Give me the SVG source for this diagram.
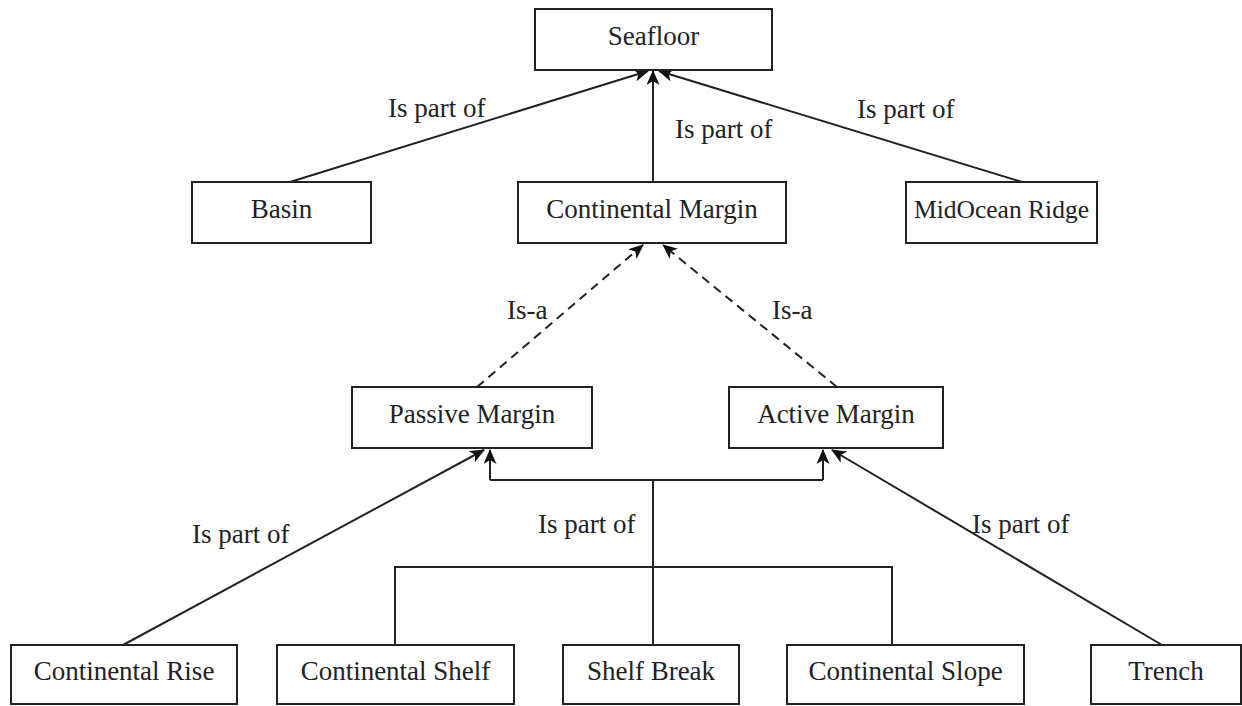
<svg xmlns="http://www.w3.org/2000/svg" width="1242" height="706" viewBox="0 0 1242 706">
<style>
.box{fill:#fff;stroke:#222;stroke-width:2}
.lbl{font-family:'Liberation Serif','Tinos','DejaVu Serif',serif;font-size:27px;fill:#222;text-anchor:middle}
.edge{font-family:'Liberation Serif','Tinos','DejaVu Serif',serif;font-size:27px;fill:#222}
.ln{fill:none;stroke:#222;stroke-width:2}
.dash{stroke-dasharray:9,6}
</style>
<defs>
<marker id="arr" markerUnits="userSpaceOnUse" markerWidth="15" markerHeight="13" refX="14" refY="6.5" orient="auto">
<path d="M0,0 L15,6.5 L0,13 L4,6.5 z" fill="#111"/>
</marker>
</defs>
<rect width="1242" height="706" fill="#fff"/>
<g id="connectors">
<line class="ln" x1="290" y1="182" x2="648" y2="71" marker-end="url(#arr)"/>
<line class="ln" x1="653" y1="182" x2="653" y2="71" marker-end="url(#arr)"/>
<line class="ln" x1="1022" y1="182" x2="659" y2="71" marker-end="url(#arr)"/>
<line class="ln dash" x1="477" y1="387" x2="643" y2="245" marker-end="url(#arr)"/>
<line class="ln dash" x1="837" y1="387" x2="663" y2="245" marker-end="url(#arr)"/>
<line class="ln" x1="123" y1="645" x2="484" y2="450" marker-end="url(#arr)"/>
<line class="ln" x1="1162" y1="645" x2="832" y2="450" marker-end="url(#arr)"/>
<polyline class="ln" points="490,480 490,450" marker-end="url(#arr)"/>
<polyline class="ln" points="823,480 823,450" marker-end="url(#arr)"/>
<line class="ln" x1="490" y1="480" x2="823" y2="480"/>
<line class="ln" x1="653" y1="480" x2="653" y2="645"/>
<polyline class="ln" points="395,645 395,567 892,567 892,645"/>
<text class="edge" x="388" y="117">Is part of</text>
<text class="edge" x="675" y="138">Is part of</text>
<text class="edge" x="857" y="118">Is part of</text>
<text class="edge" x="507" y="319">Is-a</text>
<text class="edge" x="772" y="319">Is-a</text>
<text class="edge" x="192" y="543">Is part of</text>
<text class="edge" x="538" y="533">Is part of</text>
<text class="edge" x="972" y="533">Is part of</text>
</g>
<g id="seafloor"><rect class="box" x="535" y="9" width="237" height="61"/><text class="lbl" x="653.5" y="45">Seafloor</text></g>
<g id="basin"><rect class="box" x="192" y="182" width="179" height="61"/><text class="lbl" x="281.5" y="218">Basin</text></g>
<g id="continental-margin"><rect class="box" x="518" y="182" width="268" height="61"/><text class="lbl" x="652" y="218">Continental Margin</text></g>
<g id="midocean-ridge"><rect class="box" x="906" y="182" width="191" height="61"/><text class="lbl" x="1001.5" y="218" style="font-size:25.5px">MidOcean Ridge</text></g>
<g id="passive-margin"><rect class="box" x="352" y="387" width="240" height="61"/><text class="lbl" x="472" y="423">Passive Margin</text></g>
<g id="active-margin"><rect class="box" x="729" y="387" width="214" height="61"/><text class="lbl" x="836" y="423">Active Margin</text></g>
<g id="continental-rise"><rect class="box" x="11" y="645" width="226" height="59"/><text class="lbl" x="124" y="680">Continental Rise</text></g>
<g id="continental-shelf"><rect class="box" x="277" y="645" width="237" height="59"/><text class="lbl" x="395.5" y="680">Continental Shelf</text></g>
<g id="shelf-break"><rect class="box" x="563" y="645" width="176" height="59"/><text class="lbl" x="651" y="680">Shelf Break</text></g>
<g id="continental-slope"><rect class="box" x="787" y="645" width="237" height="59"/><text class="lbl" x="905.5" y="680">Continental Slope</text></g>
<g id="trench"><rect class="box" x="1091" y="645" width="150" height="59"/><text class="lbl" x="1166" y="680">Trench</text></g>
</svg>
